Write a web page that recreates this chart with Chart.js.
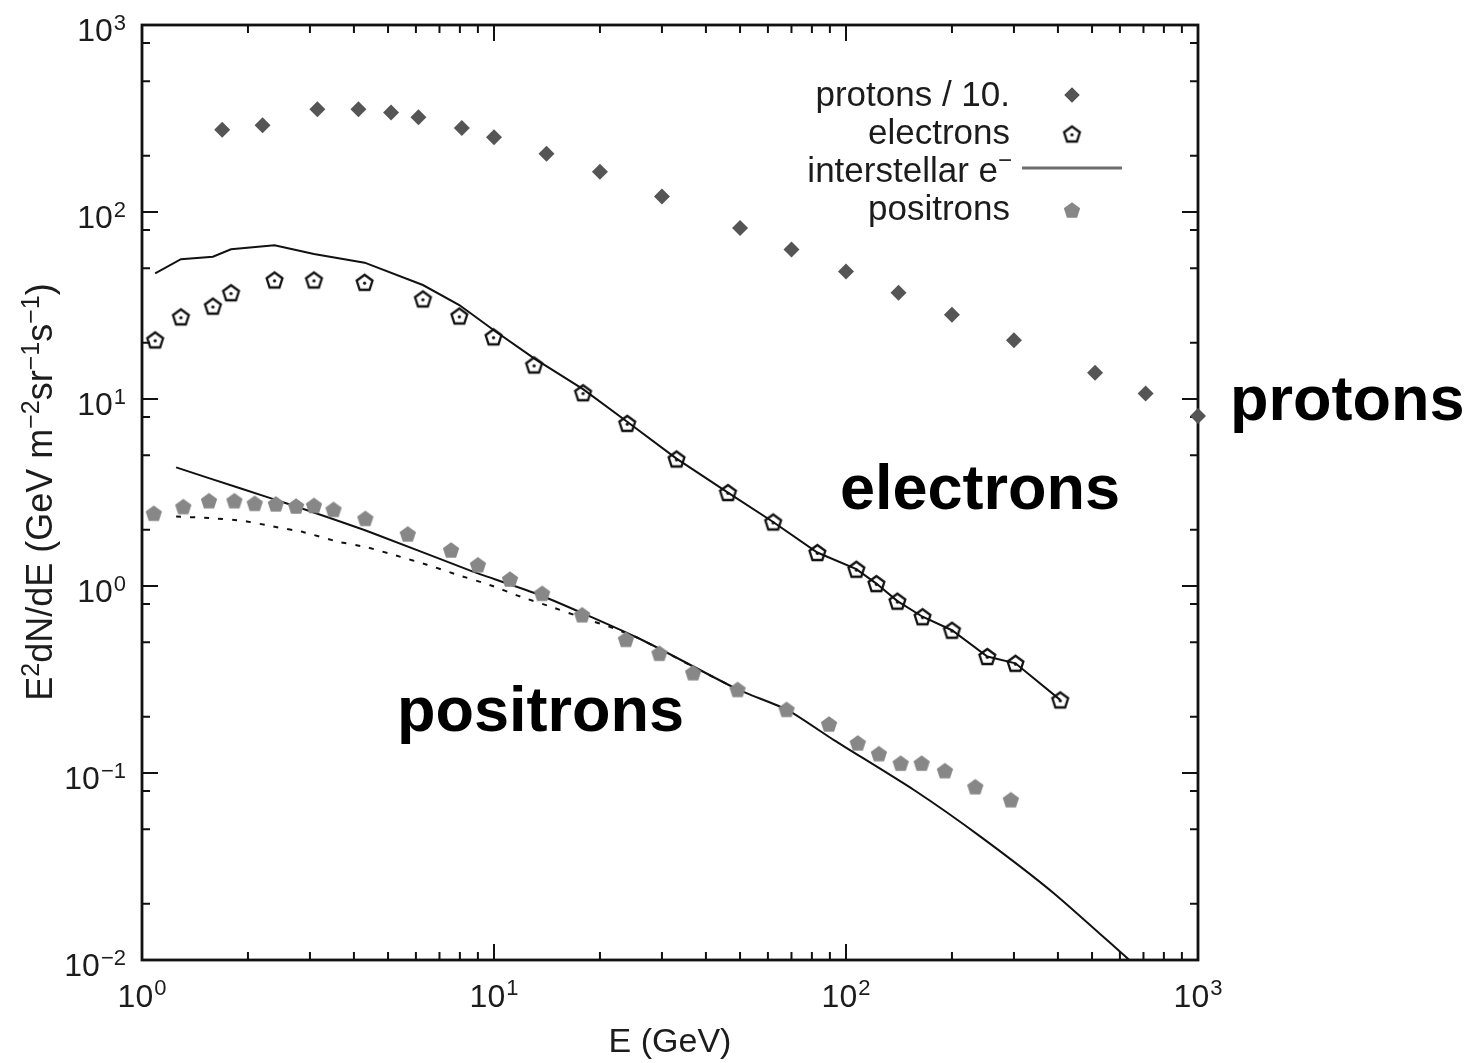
<!DOCTYPE html>
<html>
<head>
<meta charset="utf-8">
<style>
html,body{margin:0;padding:0;background:#ffffff;}
canvas{display:block;}
</style>
<script src="https://cdn.jsdelivr.net/npm/chart.js@4.4.1/dist/chart.umd.min.js"></script>
</head>
<body>
<canvas id="c" width="1484" height="1063"></canvas>
<script>
// ---------------- data ----------------
const protonE = [1.69, 2.2, 3.15, 4.12, 5.1, 6.1, 8.1, 10, 14.1, 20, 30, 50, 70, 100, 141, 200, 300, 510, 710, 1000];
const protonFlux = [275, 291, 354, 354, 340, 321, 281, 251, 205, 164, 121, 82, 63, 48, 37, 28.2, 20.6, 13.8, 10.7, 8.1];

const electronE = [1.09, 1.29, 1.59, 1.79, 2.38, 3.08, 4.29, 6.28, 7.97, 9.97, 13.0, 17.9, 23.9, 33.0, 46.2, 62.1, 82.9, 107, 122, 140, 165, 200, 252, 303, 406];
const electronFlux = [20.7, 27.5, 31.4, 37.0, 43.3, 43.3, 42.1, 34.3, 27.8, 21.5, 15.2, 10.8, 7.41, 4.78, 3.16, 2.20, 1.51, 1.23, 1.03, 0.83, 0.685, 0.58, 0.42, 0.386, 0.246];
const interstellarFlux = [47.0, 55.9, 57.7, 63.2, 66.4, 59.6, 53.6, 40.7, 31.8, 23.4, 16.5, 11.3, 7.56, 4.8, 3.16, 2.2, 1.51, 1.23, 1.03, 0.83, 0.685, 0.58, 0.42, 0.386, 0.246];

const positronE = [1.08, 1.31, 1.55, 1.83, 2.09, 2.40, 2.74, 3.08, 3.50, 4.31, 5.69, 7.55, 9.0, 11.1, 13.7, 17.8, 23.7, 29.5, 36.8, 49.2, 67.8, 89.5, 108, 124, 143, 164, 191, 233, 294];
const positronFlux = [2.45, 2.66, 2.86, 2.86, 2.77, 2.75, 2.68, 2.70, 2.57, 2.30, 1.90, 1.56, 1.30, 1.09, 0.914, 0.702, 0.519, 0.437, 0.344, 0.280, 0.219, 0.183, 0.145, 0.127, 0.113, 0.113, 0.103, 0.0845, 0.072];

const positronModelE = [1.25, 1.9, 2.74, 4.55, 8.75, 13.5, 26.1, 49.2, 68.3, 92.4, 156, 241, 390, 638];
const positronModelFlux = [4.31, 3.33, 2.66, 1.91, 1.19, 0.895, 0.519, 0.28, 0.217, 0.150, 0.0811, 0.0457, 0.0227, 0.01];

const secondaryE = [1.25, 1.55, 1.94, 2.36, 2.88, 3.58, 4.36, 5.3, 6.45, 7.85, 9.76, 11.9, 14.5, 18.0, 21.9, 26.1, 36.8, 49.2];
const secondaryFlux = [2.35, 2.31, 2.23, 2.08, 1.94, 1.73, 1.61, 1.45, 1.30, 1.15, 1.01, 0.877, 0.775, 0.672, 0.594, 0.519, 0.37, 0.28];

const xMajorTicks = [1, 10, 100, 1000];
const xTickExponents = ['0', '1', '2', '3'];
const yMajorTicks = [0.01, 0.1, 1, 10, 100, 1000];
const yTickExponents = ['\u22122', '\u22121', '0', '1', '2', '3'];
const tickBase = '10';
const xMinorMultipliers = [2, 3, 4, 5, 6, 7, 8, 9];
const yMinorMultipliers = [2, 5, 8];

const legendLabels = ['protons / 10.', 'electrons', 'interstellar e', 'positrons'];
const curveLabels = ['protons', 'electrons', 'positrons'];
const xTitle = 'E (GeV)';
// y title as [text, isSuperscript]
const yTitleParts = [['E', 0], ['2', 1], ['dN/dE (GeV m', 0], ['\u22122', 1], ['sr', 0], ['\u22121', 1], ['s', 0], ['\u22121', 1], [')', 0]];

// ---------------- helpers ----------------
const FONT = '"Liberation Sans", Arial, Helvetica, sans-serif';
const TEXT = '#1c1c1c';
const pts = (xs, ys) => xs.map((v, i) => ({x: v, y: ys[i]}));

function pentagon(r, fill, stroke, lw, dot) {
  const S = Math.ceil(2 * r + 8);
  const c = document.createElement('canvas');
  c.width = S; c.height = S;
  const g = c.getContext('2d');
  const cx = S / 2, cy = S / 2 + 0.8;
  g.beginPath();
  for (let k = 0; k < 5; k++) {
    const a = -Math.PI / 2 + k * 2 * Math.PI / 5;
    const px = cx + r * Math.cos(a), py = cy + r * Math.sin(a);
    if (k === 0) g.moveTo(px, py); else g.lineTo(px, py);
  }
  g.closePath();
  if (fill) { g.fillStyle = fill; g.fill(); }
  if (stroke) { g.strokeStyle = stroke; g.lineWidth = lw; g.lineJoin = 'miter'; g.stroke(); }
  if (dot) { g.beginPath(); g.arc(cx, cy, 1.6, 0, 2 * Math.PI); g.fillStyle = stroke; g.fill(); }
  return c;
}
const electronMarker = pentagon(8.3, null, '#111', 2.3, true);
const positronMarker = pentagon(8.6, '#878787', null, 0, false);

// ---------------- plugins ----------------
const framePlugin = {
  id: 'frame',
  beforeDatasetsDraw(chart) {
    const {ctx, chartArea: a} = chart;
    const xs = chart.scales.x, ys = chart.scales.y;
    ctx.save();
    ctx.strokeStyle = '#111';
    ctx.lineWidth = 2;
    ctx.beginPath();
    xMajorTicks.forEach((d, i) => {
      const px = xs.getPixelForValue(d);
      ctx.moveTo(px, a.bottom); ctx.lineTo(px, a.bottom - 16);
      ctx.moveTo(px, a.top); ctx.lineTo(px, a.top + 16);
      if (i < xMajorTicks.length - 1) {
        xMinorMultipliers.forEach(m => {
          const p = xs.getPixelForValue(d * m);
          ctx.moveTo(p, a.bottom); ctx.lineTo(p, a.bottom - 8);
          ctx.moveTo(p, a.top); ctx.lineTo(p, a.top + 8);
        });
      }
    });
    yMajorTicks.forEach((d, i) => {
      const py = ys.getPixelForValue(d);
      ctx.moveTo(a.left, py); ctx.lineTo(a.left + 16, py);
      ctx.moveTo(a.right, py); ctx.lineTo(a.right - 16, py);
      if (i < yMajorTicks.length - 1) {
        yMinorMultipliers.forEach(m => {
          const p = ys.getPixelForValue(d * m);
          ctx.moveTo(a.left, p); ctx.lineTo(a.left + 8, p);
          ctx.moveTo(a.right, p); ctx.lineTo(a.right - 8, p);
        });
      }
    });
    ctx.stroke();
    ctx.lineWidth = 2.8;
    ctx.strokeRect(a.left, a.top, a.right - a.left, a.bottom - a.top);
    ctx.restore();
  }
};

const textPlugin = {
  id: 'texts',
  afterDraw(chart) {
    const ctx = chart.ctx;
    const a = chart.chartArea;
    const xs = chart.scales.x, ys = chart.scales.y;
    ctx.save();
    ctx.fillStyle = TEXT;
    ctx.textBaseline = 'alphabetic';
    const baseF = '32px ' + FONT, expF = '22px ' + FONT;

    // ---- x tick labels (10 with superscript exponent) ----
    ctx.textAlign = 'left';
    xMajorTicks.forEach((v, i) => {
      const px = xs.getPixelForValue(v);
      ctx.font = baseF; const w1 = ctx.measureText(tickBase).width;
      ctx.font = expF; const w2 = ctx.measureText(xTickExponents[i]).width;
      const x0 = px - (w1 + w2 + 1) / 2;
      ctx.font = baseF; ctx.fillText(tickBase, x0, a.bottom + 47);
      ctx.font = expF; ctx.fillText(xTickExponents[i], x0 + w1 + 1, a.bottom + 35);
    });
    // ---- y tick labels ----
    ctx.textAlign = 'right';
    yMajorTicks.forEach((v, i) => {
      const py = ys.getPixelForValue(v);
      ctx.font = expF; const w2 = ctx.measureText(yTickExponents[i]).width;
      ctx.fillText(yTickExponents[i], a.left - 16, py + 5);
      ctx.font = baseF; ctx.fillText(tickBase, a.left - 17 - w2, py + 16);
    });

    // ---- legend ----
    const baselines = [106, 144, 182, 220];
    const textRight = 1010, markerX = 1072;
    ctx.textAlign = 'right';
    ctx.font = '35px ' + FONT;
    legendLabels.forEach((t, i) => {
      if (i === 2) {
        ctx.font = '24px ' + FONT;
        ctx.fillText('\u2212', textRight + 2, baselines[i] - 14);
        ctx.font = '35px ' + FONT;
        ctx.fillText(t, textRight - 12, baselines[i]);
      } else {
        ctx.fillText(t, textRight, baselines[i]);
      }
    });
    Chart.helpers.drawPoint(ctx, {pointStyle: 'rectRot', radius: 7.5, borderWidth: 0}, markerX, baselines[0] - 11);
    ctx.fillStyle = '#555555';
    ctx.fill();
    ctx.drawImage(electronMarker, markerX - electronMarker.width / 2, baselines[1] - 10 - electronMarker.height / 2);
    ctx.strokeStyle = '#6e6e6e';
    ctx.lineWidth = 3;
    ctx.beginPath();
    ctx.moveTo(1022, baselines[2] - 14);
    ctx.lineTo(1122, baselines[2] - 14);
    ctx.stroke();
    ctx.drawImage(positronMarker, markerX - positronMarker.width / 2, baselines[3] - 10 - positronMarker.height / 2);

    // ---- curve annotations ----
    ctx.fillStyle = '#000';
    ctx.textAlign = 'left';
    ctx.font = 'bold 63px ' + FONT;
    ctx.fillText(curveLabels[0], 1230, 420);
    ctx.fillText(curveLabels[1], 840, 509);
    ctx.fillText(curveLabels[2], 397, 731);

    // ---- y title (rotated, with superscripts) ----
    const mainF = '36px ' + FONT, supF = '25px ' + FONT;
    let total = 0;
    yTitleParts.forEach(([t, s]) => { ctx.font = s ? supF : mainF; total += ctx.measureText(t).width; });
    ctx.translate(52, 492);
    ctx.rotate(-Math.PI / 2);
    ctx.fillStyle = TEXT;
    let xx = -total / 2;
    yTitleParts.forEach(([t, s]) => {
      ctx.font = s ? supF : mainF;
      ctx.fillText(t, xx, s ? -13 : 0);
      xx += ctx.measureText(t).width;
    });
    ctx.restore();
  }
};

// ---------------- chart ----------------
new Chart(document.getElementById('c'), {
  type: 'scatter',
  data: {
    datasets: [
      {
        label: 'protons / 10.', data: pts(protonE, protonFlux),
        pointStyle: 'rectRot', pointRadius: 8, borderWidth: 0,
        backgroundColor: '#555555', borderColor: '#555555', clip: false
      },
      {
        label: 'electrons', data: pts(electronE, electronFlux),
        pointStyle: electronMarker, pointRadius: 8, borderWidth: 0,
        backgroundColor: 'rgba(0,0,0,0)', borderColor: '#111'
      },
      {
        label: 'positrons', data: pts(positronE, positronFlux),
        pointStyle: positronMarker, pointRadius: 8, borderWidth: 0,
        backgroundColor: '#878787', borderColor: '#878787'
      },
      {
        label: 'interstellar e\u207B', type: 'line', data: pts(electronE, interstellarFlux),
        showLine: true, pointRadius: 0, borderColor: '#111', borderWidth: 2, fill: false, tension: 0
      },
      {
        label: 'positron model', type: 'line', data: pts(positronModelE, positronModelFlux),
        showLine: true, pointRadius: 0, borderColor: '#111', borderWidth: 2, fill: false, tension: 0.2
      },
      {
        label: 'secondary positrons', type: 'line', data: pts(secondaryE, secondaryFlux),
        showLine: true, pointRadius: 0, borderColor: '#111', borderWidth: 2, borderDash: [5, 9], fill: false, tension: 0.2
      }
    ]
  },
  options: {
    responsive: false,
    animation: false,
    devicePixelRatio: 1,
    layout: {padding: {top: 25, right: 286, bottom: 0, left: 0}},
    plugins: {legend: {display: false}, tooltip: {enabled: false}, title: {display: false}},
    scales: {
      x: {
        type: 'logarithmic', min: 1, max: 1000,
        grid: {display: false}, border: {display: false},
        afterBuildTicks: s => { s.ticks = xMajorTicks.map(v => ({value: v})); },
        afterFit: s => { s.height = 103; },
        ticks: {display: false},
        title: {display: true, text: xTitle, color: TEXT, font: {family: FONT, size: 34}, padding: {top: 0, bottom: 0}}
      },
      y: {
        type: 'logarithmic', min: 0.01, max: 1000,
        grid: {display: false}, border: {display: false},
        afterBuildTicks: s => { s.ticks = yMajorTicks.map(v => ({value: v})); },
        afterFit: s => { s.width = 142; },
        ticks: {display: false}
      }
    }
  },
  plugins: [framePlugin, textPlugin]
});
</script>
</body>
</html>
